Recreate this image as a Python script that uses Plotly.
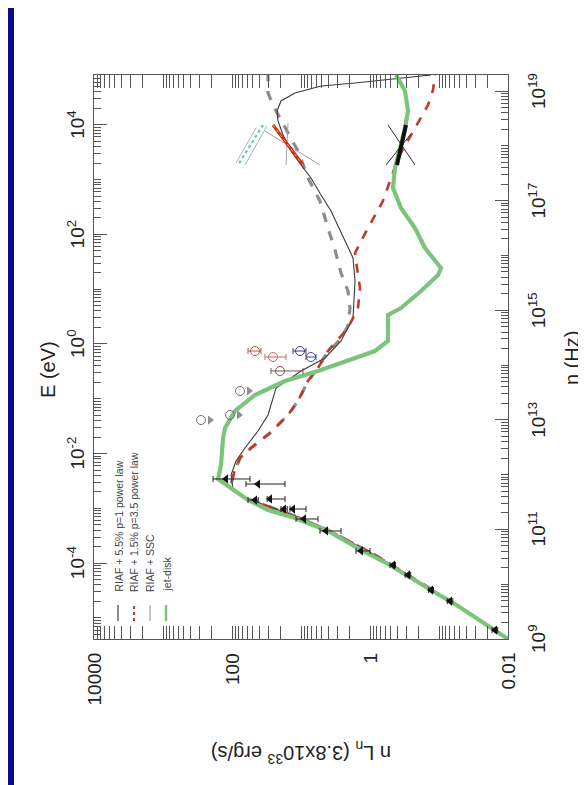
import numpy as np
import plotly.graph_objects as go

# ---------------- data (log10 values) ----------------
# jet-disk model (green)
jet_log_nu = [9.0, 9.602, 9.894, 10.369, 10.624, 10.971, 11.208, 11.354, 11.536, 11.755, 11.920,
              12.175, 12.668, 12.850, 13.161, 13.453, 13.708, 13.891, 14.073, 14.255, 14.438,
              14.912, 15.040, 15.350, 15.642, 15.770, 15.953, 16.135, 16.500, 16.865, 17.230,
              17.595, 17.960, 18.325, 18.635, 19.0, 19.292]
jet_log_L = [-2.0, -1.275, -0.884, -0.261, 0.130, 0.609, 1.087, 1.478, 1.768, 2.014, 2.203,
             2.159, 2.130, 2.101, 1.957, 1.667, 1.232, 0.754, 0.319, -0.072, -0.261,
             -0.261, -0.449, -0.739, -0.986, -1.029, -0.913, -0.797, -0.652, -0.449, -0.333,
             -0.362, -0.435, -0.507, -0.551, -0.507, -0.377]

# RIAF + 1.5% p=3.5 power law (red dashed)
red_log_nu = [9.912, 10.533, 10.989, 11.245, 11.555, 11.755, 12.029, 12.303, 12.485, 12.759,
              13.088, 13.343, 13.708, 13.945, 14.255, 14.675, 15.040, 15.405, 15.770, 16.044,
              16.500, 16.993, 17.777, 18.416, 18.745, 19.018, 19.292]
red_log_L = [-0.884, -0.072, 0.609, 1.087, 1.768, 2.029, 1.971, 1.884, 1.725, 1.449,
             1.188, 1.043, 0.899, 0.754, 0.609, 0.319, 0.174, 0.145, 0.188, 0.217,
             0.029, -0.188, -0.406, -0.696, -0.841, -0.913, -0.942]

# RIAF + 5.5% p=1 power law (grey dashed)
grey_log_nu = [9.912, 10.533, 10.989, 11.245, 11.555, 11.755, 12.029, 12.303, 12.485, 12.759,
               13.088, 13.343, 13.708, 13.945, 14.255, 14.365, 14.493, 14.712, 15.040, 15.350,
               15.679, 16.099, 16.500, 16.993, 17.412, 17.905, 18.234, 18.507, 18.745, 18.964,
               19.292]
grey_log_L = [-0.884, -0.072, 0.609, 1.087, 1.768, 2.029, 1.971, 1.884, 1.725, 1.449,
              1.188, 1.043, 0.899, 0.754, 0.609, 0.507, 0.420, 0.319, 0.290, 0.319,
              0.420, 0.507, 0.609, 0.725, 0.899, 1.043, 1.188, 1.304, 1.406, 1.478,
              1.478]

# RIAF + SSC (thin dark line)
ssc_log_nu = [9.912, 10.533, 10.989, 11.245, 11.555, 11.737, 11.993, 12.248, 12.485, 12.796,
              13.088, 13.580, 13.763, 13.891, 14.128, 14.438, 14.858, 15.533, 15.953, 16.263,
              16.555, 16.810, 17.102, 17.412, 17.650, 17.905, 18.197, 18.453, 18.635, 18.818,
              18.964, 19.091, 19.146, 19.237, 19.292]
ssc_log_L = [-0.884, -0.072, 0.609, 1.087, 1.768, 1.986, 2.014, 1.942, 1.812, 1.623,
             1.478, 1.362, 1.145, 1.0, 0.652, 0.420, 0.246, 0.217, 0.246, 0.362,
             0.464, 0.565, 0.710, 0.855, 1.0, 1.145, 1.261, 1.333, 1.348, 1.290,
             1.087, 0.710, 0.217, -0.449, -0.884]

# radio / mm detections (black triangles) with L error ranges
det_log_nu = [9.164, 9.693, 9.894, 10.168, 10.350, 10.606, 10.971, 11.190, 11.372, 11.372,
              11.555, 11.536, 11.828, 11.920]
det_log_L = [-1.812, -1.159, -0.884, -0.551, -0.333, 0.130, 0.638, 0.957, 1.116, 1.246,
             1.449, 1.667, 1.623, 2.087]
det_log_L_lo = [-1.85, -1.20, -0.92, -0.59, -0.37, 0.0, 0.420, 0.754, 0.928, 1.20,
                1.232, 1.62, 1.232, 1.739]
det_log_L_hi = [-1.77, -1.12, -0.85, -0.51, -0.29, 0.203, 0.725, 1.072, 1.16, 1.290,
                1.49, 1.768, 1.797, 2.275]

# IR upper limits (open circles + arrows)
lim_log_nu = [13.526, 13.088, 12.996]
lim_log_L = [1.884, 2.029, 2.449]

# IR flare points (coloured circles with error bars)
ir_log_nu = [14.255, 14.146, 14.255, 14.146, 13.891]
ir_log_L = [1.667, 1.406, 1.014, 0.855, 1.304]
ir_log_L_lo = [1.580, 1.217, 0.928, 0.783, 0.971]
ir_log_L_hi = [1.768, 1.522, 1.116, 0.928, 1.435]
ir_colors = ["#b05a5a", "#c06a6a", "#3a3a7a", "#4a4a8a", "#7a5050"]

# X-ray bowties: [log nu start, log nu end], [log L start, log L end]
bow_cyan_nu, bow_cyan_L = [18.380, 17.650], [1.551, 1.913]
bow_cyan_g1_nu, bow_cyan_g1_L = [18.325, 17.686], [1.652, 1.942]
bow_cyan_g2_nu, bow_cyan_g2_L = [18.361, 17.650], [1.493, 1.812]
bow_red_nu, bow_red_L = [18.380, 17.650], [1.406, 0.971]
bow_red_g1_nu, bow_red_g1_L = [18.270, 17.650], [1.522, 0.725]
bow_red_g2_nu, bow_red_g2_L = [18.416, 17.650], [1.188, 1.217]
bow_blk_nu, bow_blk_L = [18.380, 17.650], [-0.522, -0.391]
bow_blk_g1_nu, bow_blk_g1_L = [18.380, 17.650], [-0.261, -0.652]
bow_blk_g2_nu, bow_blk_g2_L = [18.197, 17.650], [-0.580, -0.232]

legend_labels = ["RIAF + 5.5% p=1 power law", "RIAF + 1.5% p=3.5 power law",
                 "RIAF + SSC", "jet-disk"]

L_tick_vals = [0.01, 1, 100, 10000]
L_tick_text = ["0.01", "1", "100", "10000"]
nu_tick_exp = [9, 11, 13, 15, 17, 19]
E_tick_exp = [-4, -2, 0, 2, 4]
HZ_PER_EV_LOG = np.log10(2.418e14)

# ---------------- figure ----------------
W, H = 586, 785
L_PX, R_PX, T_PX, B_PX = 86, 500, 67, 631
NU_TOP = 19.292
FONT = "Liberation Sans, Arial, sans-serif"
TXT = "#222222"
AX = "#555555"


def px(x):
    return (x - L_PX) / (R_PX - L_PX)


def py(y):
    return (B_PX - y) / (B_PX - T_PX)


def p10(a):
    return 10 ** np.asarray(a, dtype=float)


fig = go.Figure()


def line(lnu, lL, color, width, dash="solid"):
    fig.add_trace(go.Scatter(x=p10(lL), y=p10(lnu), mode="lines",
                             line=dict(color=color, width=width, dash=dash),
                             showlegend=False, hoverinfo="skip"))


line(grey_log_nu, grey_log_L, "#8c8c8c", 3.2, "dash")
line(ssc_log_nu, ssc_log_L, "#3a3a3a", 1.1)
line(red_log_nu, red_log_L, "#c0392b", 2.6, "dash")
line(jet_log_nu, jet_log_L, "#7cc47c", 4.2)

# bowties
line(bow_cyan_g1_nu, bow_cyan_g1_L, "#b0b0b0", 1)
line(bow_cyan_g2_nu, bow_cyan_g2_L, "#b0b0b0", 1)
line(bow_cyan_nu, bow_cyan_L, "#5cc8c0", 2.2, "dot")
line(bow_red_g1_nu, bow_red_g1_L, "#a0a0a0", 1)
line(bow_red_g2_nu, bow_red_g2_L, "#a0a0a0", 1)
line(bow_red_nu, bow_red_L, "#d02a1a", 3)
line(bow_red_nu, bow_red_L, "#f0b020", 1, "dot")
line(bow_blk_g1_nu, bow_blk_g1_L, "#303030", 1)
line(bow_blk_g2_nu, bow_blk_g2_L, "#303030", 1)
line(bow_blk_nu, bow_blk_L, "#101010", 4)

# detections
dL = p10(det_log_L)
fig.add_trace(go.Scatter(
    x=dL, y=p10(det_log_nu), mode="markers",
    marker=dict(symbol="triangle-left", size=8, color="#111111"),
    error_x=dict(type="data", symmetric=False,
                 array=p10(det_log_L_hi) - dL, arrayminus=dL - p10(det_log_L_lo),
                 color="#222222", thickness=1, width=3),
    showlegend=False, hoverinfo="skip"))

# upper limits
fig.add_trace(go.Scatter(
    x=p10(lim_log_L) * 10 ** -0.13, y=p10(lim_log_nu), mode="markers",
    marker=dict(symbol="triangle-right", size=8, color="#909090"),
    showlegend=False, hoverinfo="skip"))
fig.add_trace(go.Scatter(
    x=p10(lim_log_L), y=p10(lim_log_nu), mode="markers",
    marker=dict(symbol="circle-open", size=9, color="#707070", line=dict(width=1)),
    showlegend=False, hoverinfo="skip"))

# IR flare points
iL = p10(ir_log_L)
for i in range(len(ir_log_L)):
    fig.add_trace(go.Scatter(
        x=[iL[i]], y=[10 ** ir_log_nu[i]], mode="markers",
        marker=dict(symbol="circle-open", size=9, color=ir_colors[i], line=dict(width=1)),
        error_x=dict(type="data", symmetric=False,
                     array=[10 ** ir_log_L_hi[i] - iL[i]],
                     arrayminus=[iL[i] - 10 ** ir_log_L_lo[i]],
                     color=ir_colors[i], thickness=1, width=3),
        showlegend=False, hoverinfo="skip"))

# invisible trace to bind the E axis
fig.add_trace(go.Scatter(x=[1], y=[1], yaxis="y2", mode="markers",
                         marker=dict(opacity=0), showlegend=False, hoverinfo="skip"))


def minor_vals(lo, hi):
    out = []
    for k in range(int(np.floor(lo)) - 1, int(np.ceil(hi)) + 1):
        for d in range(1, 10):
            v = d * 10.0 ** k
            if lo <= np.log10(v) <= hi:
                out.append(v)
    return out


axis_common = dict(type="log", showgrid=False, zeroline=False, showline=True,
                   linecolor=AX, linewidth=1, ticks="inside", ticklen=13,
                   tickcolor=AX, tickwidth=1, showticklabels=False)

E_LO, E_HI = 9 - HZ_PER_EV_LOG, NU_TOP - HZ_PER_EV_LOG

fig.update_layout(
    width=W, height=H,
    margin=dict(l=L_PX, r=W - R_PX, t=T_PX, b=H - B_PX, pad=0),
    paper_bgcolor="white", plot_bgcolor="white",
    xaxis=dict(**axis_common, range=[4, -2], mirror="allticks",
               tickmode="array", tickvals=L_tick_vals,
               minor=dict(tickmode="array", tickvals=minor_vals(-2, 4), ticks="inside",
                          ticklen=7, tickcolor=AX, showgrid=False)),
    yaxis=dict(**axis_common, range=[9, NU_TOP], side="right",
               tickmode="array", tickvals=[10.0 ** e for e in nu_tick_exp],
               minor=dict(tickmode="array", tickvals=minor_vals(9, NU_TOP), ticks="inside",
                          ticklen=7, tickcolor=AX, showgrid=False)),
    yaxis2=dict(**axis_common, overlaying="y", side="left", range=[E_LO, E_HI],
                tickmode="array", tickvals=[10.0 ** e for e in E_tick_exp],
                minor=dict(tickmode="array", tickvals=minor_vals(E_LO, E_HI),
                           ticks="inside", ticklen=7, tickcolor=AX, showgrid=False)),
)

shapes = []
annotations = []
tick_font = dict(family=FONT, size=19, color=TXT)

# tick labels (rotated like the rest of the figure)
for v, t in zip(L_tick_vals, L_tick_text):
    annotations.append(dict(text=t, xref="x", yref="paper", x=np.log10(v), y=py(643),
                            xanchor="center", yanchor="top", textangle=-90,
                            showarrow=False, font=tick_font))
for e in nu_tick_exp:
    annotations.append(dict(text="10<sup>%d</sup>" % e, xref="paper", yref="y", x=px(515), y=e,
                            xanchor="left", yanchor="middle", textangle=-90,
                            showarrow=False, font=tick_font))
for e in E_tick_exp:
    annotations.append(dict(text="10<sup>%d</sup>" % e, xref="paper", yref="y2", x=px(82), y=e,
                            xanchor="right", yanchor="middle", textangle=-90,
                            showarrow=False, font=tick_font))

# blue frame strips
shapes.append(dict(type="rect", xref="paper", yref="paper", x0=px(0), x1=px(6), y0=py(H), y1=py(0),
                   fillcolor="#0a0a8c", line=dict(width=0)))
shapes.append(dict(type="rect", xref="paper", yref="paper", x0=px(0), x1=px(W), y0=py(H), y1=py(778),
                   fillcolor="#0a0a8c", line=dict(width=0)))

# legend samples
leg_x = [110, 126, 142, 158]
leg_style = [dict(color="#8c8c8c", width=2), dict(color="#c0392b", width=2, dash="dot"),
             dict(color="#8c8c8c", width=1), dict(color="#7cc47c", width=2.5)]
for lx, st, lab in zip(leg_x, leg_style, legend_labels):
    shapes.append(dict(type="line", xref="paper", yref="paper", x0=px(lx), x1=px(lx),
                       y0=py(613), y1=py(597), line=st))
    annotations.append(dict(text=lab, xref="paper", yref="paper", x=px(lx), y=py(586),
                            xanchor="center", yanchor="bottom", textangle=-90, showarrow=False,
                            font=dict(family=FONT, size=10.5, color="#444444")))

annotations.append(dict(text="E (eV)", xref="paper", yref="paper", x=px(40), y=py(362),
                        xanchor="center", yanchor="middle",
                        textangle=-90, showarrow=False,
                        font=dict(family=FONT, size=20, color=TXT)))
annotations.append(dict(text="n (Hz)", xref="paper", yref="paper", x=px(564), y=py(350),
                        xanchor="center", yanchor="middle",
                        textangle=-90, showarrow=False,
                        font=dict(family=FONT, size=20, color=TXT)))
annotations.append(dict(text="n L<sub>n</sub> (3.8x10<sup>33</sup> erg/s)", xref="paper", yref="paper",
                        x=px(293), y=py(745), xanchor="center", yanchor="middle",
                        textangle=180, showarrow=False,
                        font=dict(family=FONT, size=20, color=TXT)))

fig.update_layout(shapes=shapes, annotations=annotations)
fig.write_html("out.html")
